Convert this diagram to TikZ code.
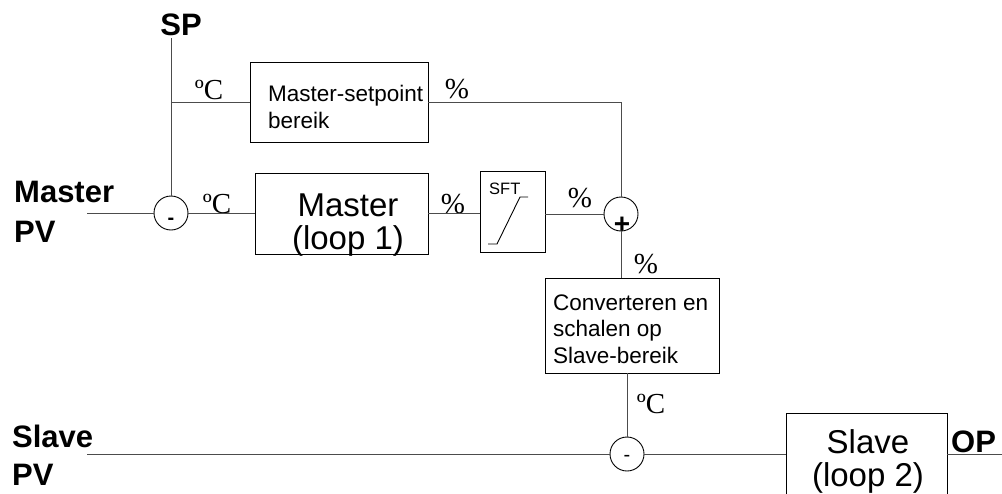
\documentclass[tikz,border=0pt]{standalone}
\usepackage{fontspec}
\setmainfont{Liberation Sans}
\newfontfamily\serifl{Liberation Serif}
\usetikzlibrary{positioning,calc}

\begin{document}
\begin{tikzpicture}[x=1pt,y=-1pt,
  blok/.style={draw,line width=0.9pt,inner sep=0pt},
  som/.style={circle,draw,line width=0.9pt,minimum size=34pt,inner sep=0pt},
  lijn/.style={line width=0.9pt,black!70},
  kop/.style={font=\fontsize{31}{32}\selectfont\bfseries,anchor=base west,inner sep=0pt},
  eenh/.style={font=\serifl\fontsize{29}{30}\selectfont,anchor=base,inner sep=0pt},
  tekst/.style={font=\fontsize{22.5}{26.5}\selectfont,align=left,anchor=base west,inner sep=0pt},
  groot/.style={font=\fontsize{33}{33}\selectfont,align=center,anchor=base,inner sep=0pt}]
  \useasboundingbox (0,0) rectangle (1002,493);
  \clip (0,0) rectangle (1002,493);
  % blokken
  \node[blok,minimum width=178pt,minimum height=80pt] (msp) at (339,102) {};
  \node[blok,minimum width=173pt,minimum height=81pt] (master) at (341.5,213.5) {};
  \node[blok,minimum width=65pt,minimum height=81pt] (sft) at (512.5,211.5) {};
  \node[blok,minimum width=174pt,minimum height=95pt] (conv) at (632,325.5) {};
  \node[blok,minimum width=161pt,minimum height=110pt] (slave) at (866.5,468) {};
  % teksten (anker op basislijn van de laatste regel)
  \node[tekst] (msptxt) at (268,128) {Master-setpoint\\bereik};
  \node[tekst] (convtxt) at (553,363) {Converteren en\\schalen op\\Slave-bereik};
  \node[groot] (mastxt) at (348,249) {Master\\(loop 1)};
  \node[groot] (slvtxt) at (868,486) {Slave\\(loop 2)};
  \node[font=\fontsize{16.5}{16.5}\selectfont,anchor=base west,inner sep=0pt] (sfttxt) at (489,194) {SFT};
  \draw[line width=0.9pt] ($(sft.center)+(-24.5,32.5)$) -- ++(9,0) -- ++(23,-47) -- ++(8,0);
  % somknopen
  \node[som] (s1) at (171,213) {};
  \node[som] (s2) at (621,214) {};
  \node[som] (s3) at (627,454) {};
  \node[font=\fontsize{20}{20}\selectfont\bfseries,inner sep=0pt] (min1) at ($(s1)+(0,8)$) {-};
  \node[font=\fontsize{28}{28}\selectfont\bfseries,inner sep=0pt] (plus2) at ($(s2)+(1,11)$) {+};
  \node[font=\fontsize{20}{20}\selectfont,inner sep=0pt] (min3) at ($(s3)+(0,4)$) {-};
  % ingangen en uitgang
  \node[kop,anchor=base] (sp) at (181,35) {SP};
  \node[kop] (mpv1) at (14,202) {Master};
  \node[kop] (mpv2) at (14,242) {PV};
  \node[kop] (spv1) at (12,447) {Slave};
  \node[kop] (spv2) at (12,485) {PV};
  \node[kop] (op) at (951,452) {OP};
  % eenheden
  \node[eenh] (u1) at (209,99) {ºC};
  \node[eenh] (u2) at (217,213) {ºC};
  \node[eenh] (u3) at (651,413) {ºC};
  \node[eenh] (p1) at (457,98) {\%};
  \node[eenh] (p2) at (453,213) {\%};
  \node[eenh] (p3) at (580,207) {\%};
  \node[eenh] (p4) at (646,273) {\%};
  % verbindingen
  \coordinate (spin) at (171,38);
  \coordinate (mpvin) at (87,213);
  \coordinate (spvin) at (87,454);
  \coordinate (opuit) at (1002,454);
  \draw[lijn] (spin) -- (s1);
  \draw[lijn] (s1 |- msp.west) -- (msp.west);
  \draw[lijn] (msp.east) -| (s2);
  \draw[lijn] (mpvin) -- (s1);
  \draw[lijn] (s1) -- (s1 -| master.west);
  \draw[lijn] (master.east |- s1) -- (sft.west |- s1);
  \draw[lijn] (sft.east |- s2) -- (s2);
  \draw[lijn] (s2) -- (s2 |- conv.north);
  \draw[lijn] (s3 |- conv.south) -- (s3);
  \draw[lijn] (spvin) -- (s3);
  \draw[lijn] (s3) -- (s3 -| slave.west);
  \draw[lijn] (slave.east |- opuit) -- (opuit);
\end{tikzpicture}
\end{document}
